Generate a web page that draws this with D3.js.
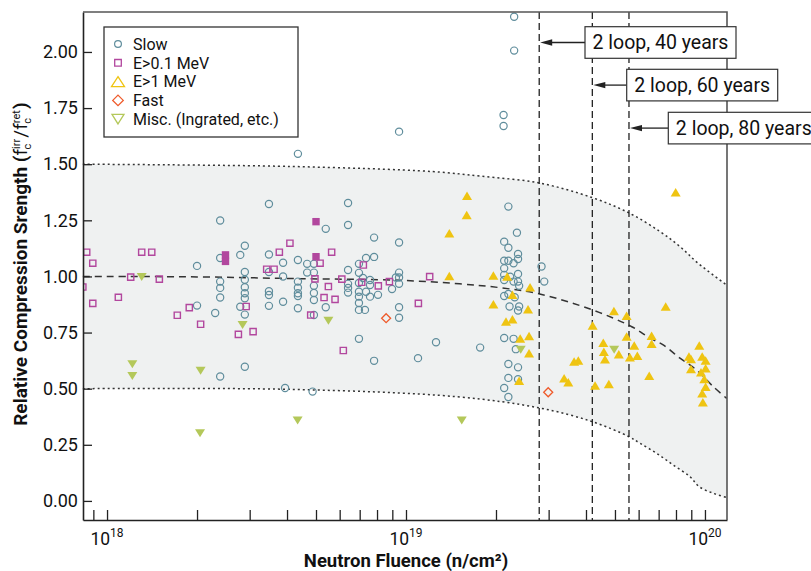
<!DOCTYPE html>
<html><head><meta charset="utf-8">
<script src="https://cdn.jsdelivr.net/npm/d3@7"></script>
<style>
body{margin:0;background:#fff}
svg{display:block}
text{font-family:Roboto,"Open Sans",sans-serif;fill:#111}
</style>
</head><body>
<svg id="c" width="811" height="571"></svg>
<script>
// Fluence values are in units of 1e18 n/cm^2; second value = relative compression strength
const UNIT = 1e18;

const slow = [
[2.0,1.047],[2.39,1.249],[2.39,1.082],[2.39,0.977],[2.39,0.949],[2.39,0.906],[2.30,0.837],[2.0,0.87],
[2.79,1.096],[2.89,1.137],[2.89,1.02],[2.89,0.985],[2.89,0.952],[2.89,0.925],[2.89,0.903],[2.79,0.865],[2.89,0.83],
[3.48,1.323],[3.48,1.098],[3.48,1.02],[3.48,0.934],[3.48,0.917],[3.48,0.869],
[3.88,1.061],[3.88,1.0],[3.88,0.887],
[4.35,1.546],[4.35,1.073],[4.35,0.977],[4.35,0.95],[4.35,0.925],[4.35,0.913],[4.35,0.858],
[2.89,0.598],[2.39,0.554],[3.94,0.503],
[9.48,1.645],[6.40,1.327],[6.40,1.229],[5.39,1.212],[7.82,1.173],[9.48,1.151],
[4.67,1.056],[4.92,1.056],[4.67,1.017],[4.92,1.017],
[4.92,0.958],[4.92,0.926],[4.92,0.895],[4.92,0.828],[5.39,0.863],
[6.40,1.029],[6.40,0.967],[6.40,0.949],[6.40,0.928],
[6.96,1.056],[7.35,1.082],[7.82,1.087],[6.96,1.016],[7.18,0.993],[7.58,0.984],[6.96,0.971],[7.58,0.962],
[6.96,0.932],[7.35,0.932],[6.96,0.91],[7.58,0.91],[8.06,0.918],[6.96,0.882],[6.96,0.851],[7.29,0.851],
[9.48,1.017],[9.48,0.995],[9.25,0.995],[9.48,0.967],[8.98,0.944],[9.48,0.863],[9.48,0.816],
[6.96,0.722],[7.82,0.624],[10.97,0.636],[12.6,0.707],[17.7,0.683],[4.87,0.487],
[22.0,1.311],[23.5,1.195],[21.3,1.155],[22.0,1.128],[23.7,1.10],[21.3,1.07],[22.0,1.07],[22.9,1.059],
[23.7,1.078],[21.3,1.036],[21.3,1.007],[22.3,0.999],[23.7,1.011],[21.3,0.984],[22.9,0.977],[23.7,0.977],
[23.9,0.958],[21.3,0.913],[22.0,0.922],[23.1,0.907],[22.2,0.866],[23.9,0.866],[23.7,0.848],[21.3,0.726],
[22.9,0.722],[23.3,0.676],[22.0,0.61],[23.7,0.595],[22.0,0.548],[23.7,0.542],[21.3,0.503],[22.0,0.463],
[28.4,1.044],[29.0,0.977],[23.0,2.157],[23.0,2.006],[21.2,1.719],[21.2,1.67]
];

const e01 = [
[0.83,0.953],[0.855,1.108],[0.896,1.059],[0.896,0.88],[1.091,0.907],[1.20,0.997],[1.306,1.108],[1.411,1.108],
[1.496,0.988],[1.718,0.827],[1.884,0.861],[2.056,0.787],[2.92,0.866],[3.08,0.754],[2.75,0.742],[3.42,1.032],
[3.62,1.032],[3.77,1.108],[4.09,1.148],[5.16,1.059],[5.64,1.108],[4.96,0.989],[5.50,0.955],[6.10,0.988],
[5.32,0.906],[5.79,0.898],[4.80,0.828],[7.20,1.051],[7.11,0.974],[8.08,0.958],[8.80,0.977],[12.0,0.999],
[11.0,0.88],[6.17,0.67]
];
const e01Filled = [[2.49,1.096],[2.49,1.067],[5.00,1.244],[5.00,1.088]];

const e1 = [
[16.0,1.36],[15.96,1.274],[13.96,1.192],[13.96,1.002],[19.6,1.004],[21.8,1.0],[26.0,0.952],[22.7,0.918],
[19.6,0.876],[25.6,0.854],[21.6,0.799],[22.7,0.809],[24.1,0.724],[25.8,0.735],[25.8,0.658],[23.9,0.535],
[79.8,1.375],[73.9,0.866],[49.6,0.846],[54.7,0.825],[42.1,0.781],[54.7,0.732],[66.3,0.736],[45.7,0.705],
[58.0,0.692],[66.3,0.70],[95.7,0.692],[45.9,0.665],[51.5,0.653],[59.4,0.647],[46.3,0.631],[56.1,0.64],
[36.5,0.621],[37.7,0.625],[88.4,0.643],[89.8,0.632],[97.9,0.643],[100.5,0.625],[89.8,0.588],[100.5,0.591],
[97.0,0.573],[99.5,0.543],[100.5,0.509],[97.9,0.48],[98.4,0.44],[33.8,0.546],[34.9,0.529],[65.1,0.558],
[42.9,0.514],[47.7,0.521]
];

const fast = [[8.58,0.814],[29.9,0.484]];

const misc = [
[1.215,0.609],[1.215,0.557],[2.056,0.58],[2.047,0.302],[2.84,0.784],[4.34,0.358],[1.306,0.997],
[5.50,0.803],[24.2,0.673],[15.36,0.358],[49.7,0.673]
];

const meanCurve = [
[0.83,1.0],[2.0,0.998],[4.4,0.99],[9.5,0.983],[15.1,0.967],[20.6,0.95],[28,0.922],[42,0.851],
[56.9,0.776],[65.5,0.725],[72.5,0.695],[82.5,0.636],[93.8,0.583],[106.6,0.509],[118.2,0.457]
];
const upperCurve = [
[0.83,1.5],[4.1,1.49],[12.3,1.467],[17.7,1.447],[28,1.416],[42,1.351],[55.7,1.283],[70.7,1.2],
[82.5,1.133],[94.8,1.059],[118.2,0.962]
];
const lowerCurve = [
[0.83,0.5],[4.1,0.497],[14.8,0.464],[28,0.414],[42,0.353],[55.7,0.286],[60.6,0.257],[68.9,0.212],
[78.3,0.16],[89.1,0.108],[95.5,0.064],[106.6,0.034],[118.2,0.015]
];

const loopFluence = [27.9, 42.0, 55.7];
const loopLabels = ["2 loop, 40 years", "2 loop, 60 years", "2 loop, 80 years"];

const yTicks = [0, 0.25, 0.5, 0.75, 1.0, 1.25, 1.5, 1.75, 2.0];
const xDecades = [18, 19, 20];
const xTickMultiples = [9e17,1e18,2e18,3e18,4e18,5e18,6e18,7e18,8e18,9e18,1e19,2e19,3e19,4e19,5e19,6e19,7e19,8e19,9e19,1e20];

const legendItems = ["Slow", "E>0.1 MeV", "E>1 MeV", "Fast", "Misc. (Ingrated, etc.)"];

// ---- layout
const L = 83, R = 727, T = 12, B = 520;
const colSlow = "#5f8d9c", colE01 = "#b2479e", colE1 = "#efc412", colFast = "#ef5a2a", colMisc = "#b4c85a";

const x = d3.scaleLog().domain([8.31e17, 1.185e20]).range([L, R]);
const y = d3.scaleLinear().domain([-0.085, 2.178]).range([B, T]);
const px = d => x(d[0]*UNIT), py = d => y(d[1]);

const svg = d3.select("#c");
svg.append("defs").append("clipPath").attr("id","clip")
  .append("rect").attr("x",L).attr("y",T).attr("width",R-L).attr("height",B-T);

const line = d3.line().x(px).y(py).curve(d3.curveCatmullRom.alpha(0.5));

// band
const up = line(upperCurve);
const lo = line(lowerCurve.slice().reverse());
svg.append("path").attr("d", up + "L" + lo.slice(1) + "Z")
  .attr("fill","#eff1f1").attr("clip-path","url(#clip)");

// curves
svg.append("path").attr("d", line(upperCurve)).attr("fill","none").attr("stroke","#333")
  .attr("stroke-width",1.5).attr("stroke-dasharray","2,3");
svg.append("path").attr("d", line(lowerCurve)).attr("fill","none").attr("stroke","#333")
  .attr("stroke-width",1.5).attr("stroke-dasharray","2,3");
svg.append("path").attr("d", line(meanCurve)).attr("fill","none").attr("stroke","#333")
  .attr("stroke-width",1.5).attr("stroke-dasharray","7,5");

// vertical loop lines
svg.selectAll(".vl").data(loopFluence).enter().append("line")
  .attr("x1",d=>x(d*UNIT)).attr("x2",d=>x(d*UNIT)).attr("y1",T).attr("y2",B)
  .attr("stroke","#222").attr("stroke-width",1.3).attr("stroke-dasharray","7,4");

// markers
const tri = (w,h,down) => down ? `M0,${h/2}L${w/2},${-h/2}L${-w/2},${-h/2}Z` : `M0,${-h/2}L${w/2},${h/2}L${-w/2},${h/2}Z`;
const sq = s => `M${-s/2},${-s/2}h${s}v${s}h${-s}Z`;
const dia = s => `M0,${-s/2}L${s/2},0L0,${s/2}L${-s/2},0Z`;

const pts = svg.append("g").attr("clip-path","url(#clip)");
pts.selectAll(".slow").data(slow).enter().append("circle")
  .attr("cx",px).attr("cy",py).attr("r",3.6).attr("fill","none").attr("stroke",colSlow).attr("stroke-width",1.2);
pts.selectAll(".e01").data(e01).enter().append("path")
  .attr("transform",d=>`translate(${px(d)},${py(d)})`).attr("d",sq(6.2))
  .attr("fill","none").attr("stroke",colE01).attr("stroke-width",1.4);
pts.selectAll(".e01f").data(e01Filled).enter().append("path")
  .attr("transform",d=>`translate(${px(d)},${py(d)})`).attr("d",sq(7.4))
  .attr("fill",colE01).attr("stroke","none");
pts.selectAll(".e1").data(e1).enter().append("path")
  .attr("transform",d=>`translate(${px(d)},${py(d)})`).attr("d",tri(10,8.5,false))
  .attr("fill",colE1);
pts.selectAll(".fast").data(fast).enter().append("path")
  .attr("transform",d=>`translate(${px(d)},${py(d)})`).attr("d",dia(9))
  .attr("fill","none").attr("stroke",colFast).attr("stroke-width",1.3);
pts.selectAll(".misc").data(misc).enter().append("path")
  .attr("transform",d=>`translate(${px(d)},${py(d)})`).attr("d",tri(10,8,true))
  .attr("fill",colMisc);

// axes
const gx = svg.append("g").attr("transform",`translate(0,${B})`)
  .call(d3.axisBottom(x).tickValues(xTickMultiples).tickSize(-10).tickSizeOuter(0).tickFormat(()=>""));
const gy = svg.append("g").attr("transform",`translate(${L},0)`)
  .call(d3.axisLeft(y).tickValues(yTicks).tickSize(-9).tickSizeOuter(0).tickPadding(5).tickFormat(d3.format(".2f")));
[gx,gy].forEach(g=>{
  g.select(".domain").attr("stroke","#222").attr("stroke-width",1.6);
  g.selectAll(".tick line").attr("stroke","#222").attr("stroke-width",1.3);
});
gy.selectAll(".tick text").style("font-family","Roboto, sans-serif").style("font-size","18px").attr("fill","#111");

// frame top/right
svg.append("path").attr("d",`M${L},${T}H${R}V${B}`).attr("fill","none").attr("stroke","#555").attr("stroke-width",1.6);

// x decade labels
xDecades.forEach(e=>{
  const t = svg.append("text").attr("x",x(Math.pow(10,e))).attr("y",544.5)
    .attr("text-anchor","middle").style("font-size","17.5px");
  t.append("tspan").text("10");
  t.append("tspan").text(String(e)).attr("dy",-8).style("font-size","12px");
});

// axis titles
svg.append("text").attr("x",406).attr("y",566.5).attr("text-anchor","middle")
  .style("font-size","18.5px").style("font-weight","700").text("Neutron Fluence (n/cm²)");

const yt = svg.append("text").attr("transform","translate(27,264) rotate(-90)")
  .attr("text-anchor","middle").style("font-size","19px").style("font-weight","700");
yt.append("tspan").text("Relative Compression Srength (");
yt.append("tspan").text("f").style("font-weight","400");
yt.append("tspan").text("irr").style("font-size","11px").style("font-weight","400").attr("dy",-7);
yt.append("tspan").text("c").style("font-size","11px").style("font-weight","400").attr("dx",-10.5).attr("dy",11);
yt.append("tspan").text("/").style("font-weight","400").attr("dx",6).attr("dy",-4);
yt.append("tspan").text("f").style("font-weight","400");
yt.append("tspan").text("ret").style("font-size","11px").style("font-weight","400").attr("dy",-7);
yt.append("tspan").text("c").style("font-size","11px").style("font-weight","400").attr("dx",-13.5).attr("dy",11);
yt.append("tspan").text(")").attr("dx",9).attr("dy",-4);

// legend
svg.append("rect").attr("x",104).attr("y",27).attr("width",194).attr("height",110)
  .attr("fill","#fff").attr("stroke","#333").attr("stroke-width",1.3);
const lgY = i => 44 + i*18.8;
const lg = svg.append("g");
lg.append("circle").attr("cx",118).attr("cy",lgY(0)).attr("r",3.4).attr("fill","none").attr("stroke",colSlow).attr("stroke-width",1.2);
lg.append("path").attr("transform",`translate(118,${lgY(1)})`).attr("d",sq(6.6)).attr("fill","none").attr("stroke",colE01).attr("stroke-width",1.3);
lg.append("path").attr("transform",`translate(118,${lgY(2)})`).attr("d",tri(13,10,false)).attr("fill","none").attr("stroke",colE1).attr("stroke-width",1.3);
lg.append("path").attr("transform",`translate(118,${lgY(3)})`).attr("d",dia(10.5)).attr("fill","none").attr("stroke",colFast).attr("stroke-width",1.3);
lg.append("path").attr("transform",`translate(118,${lgY(4)})`).attr("d",tri(12,9.5,true)).attr("fill","none").attr("stroke",colMisc).attr("stroke-width",1.3);
legendItems.forEach((s,i)=>{
  lg.append("text").attr("x",133).attr("y",lgY(i)+5.8).style("font-size","16px").text(s);
});

// annotations
const boxX = [585, 626.7, 668.3], boxY = [26.7, 69.3, 112.3], boxW = 151, boxH = 31.6;
loopLabels.forEach((s,i)=>{
  const cy = boxY[i] + boxH/2;
  const xl = x(loopFluence[i]*UNIT);
  svg.append("line").attr("x1",boxX[i]).attr("x2",xl+10).attr("y1",cy).attr("y2",cy)
    .attr("stroke","#222").attr("stroke-width",1.3);
  svg.append("path").attr("d",`M${xl+1},${cy}L${xl+13},${cy-3.2}L${xl+13},${cy+3.2}Z`).attr("fill","#222");
  svg.append("rect").attr("x",boxX[i]).attr("y",boxY[i]).attr("width",boxW).attr("height",boxH)
    .attr("fill","#fff").attr("stroke","#333").attr("stroke-width",1.2);
  svg.append("text").attr("x",boxX[i]+boxW/2).attr("y",cy+6.8).attr("text-anchor","middle")
    .style("font-size","19.5px").text(s);
});
</script>
</body></html>
